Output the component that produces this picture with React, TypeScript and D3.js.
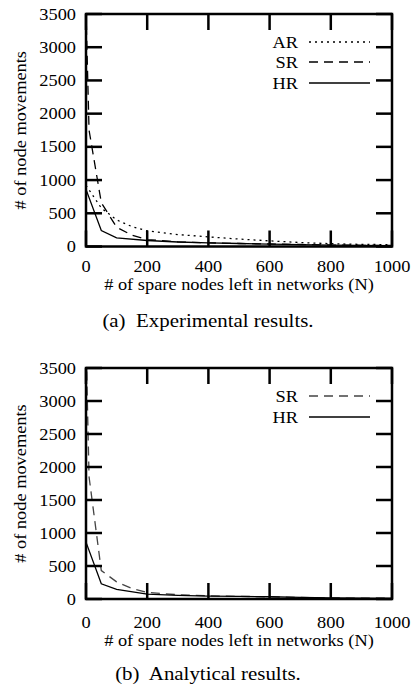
import React from 'react';
import * as d3 from 'd3';

// x ticks / y ticks
const xTicks = [0, 200, 400, 600, 800, 1000];
const yTicks = [0, 500, 1000, 1500, 2000, 2500, 3000, 3500];

// (a) experimental results
const expAR: [number, number][] = [
  [0, 920], [50, 580], [100, 400], [150, 300], [200, 235], [300, 180], [400, 145],
  [500, 112], [600, 85], [700, 60], [800, 42], [900, 32], [1000, 28],
];
const expSR: [number, number][] = [
  [0, 3550], [10, 1750], [50, 660], [100, 290], [150, 170], [200, 105], [300, 70],
  [400, 55], [500, 45], [600, 38], [700, 30], [800, 22], [900, 18], [1000, 15],
];
const expHR: [number, number][] = [
  [0, 860], [50, 240], [100, 130], [200, 90], [300, 68], [400, 55], [500, 45],
  [600, 36], [700, 27], [800, 20], [900, 16], [1000, 14],
];

// (b) analytical results
const anaSR: [number, number][] = [
  [0, 3900], [10, 1850], [50, 430], [100, 260], [150, 160], [200, 100], [300, 65],
  [400, 48], [500, 40], [600, 33], [700, 24], [800, 16], [900, 13], [1000, 11],
];
const anaHR: [number, number][] = [
  [0, 860], [50, 230], [100, 145], [200, 75], [300, 55], [400, 45], [500, 40],
  [600, 34], [700, 25], [800, 15], [900, 12], [1000, 10],
];

const FONT = "'Liberation Serif', 'Times New Roman', Times, 'Nimbus Roman', serif";
const SX = 1.08;

type Series = { name: string; data: [number, number][]; dash: string; color: string };

const Txt = ({ x, y, size, anchor, rotate, children }: any) => (
  <text
    transform={`translate(${x},${y})${rotate ? ` rotate(${rotate})` : ''} scale(${SX},1)`}
    style={{ fontFamily: FONT }}
    fontSize={size}
    textAnchor={anchor}
    fill="#000"
  >
    {children}
  </text>
);

const Panel = ({ top, bottom, series, legendY, id, tickY, titleY, caption, captionY }: any) => {
  const left = 86;
  const right = 392;
  const x = d3.scaleLinear().domain([0, 1000]).range([left, right]);
  const y = d3.scaleLinear().domain([0, 3500]).range([bottom, top]);
  const line = d3.line<[number, number]>().x(d => x(d[0])).y(d => y(d[1]));
  const tl = 16;

  return (
    <g>
      <defs>
        <clipPath id={id}>
          <rect x={left} y={top} width={right - left} height={bottom - top} />
        </clipPath>
      </defs>
      <g clipPath={`url(#${id})`}>
        {series.map((s: Series) => (
          <path key={s.name} d={line(s.data) || ''} fill="none" stroke={s.color}
            strokeWidth={1.3} strokeDasharray={s.dash} />
        ))}
      </g>
      {/* ticks */}
      {yTicks.map(t => (
        <g key={'y' + t} stroke="#000" strokeWidth={2.5}>
          <line x1={left} x2={left + tl} y1={y(t)} y2={y(t)} />
          <line x1={right - tl} x2={right} y1={y(t)} y2={y(t)} />
        </g>
      ))}
      {xTicks.map(t => (
        <g key={'x' + t} stroke="#000" strokeWidth={2.5}>
          <line x1={x(t)} x2={x(t)} y1={bottom} y2={bottom - tl} />
          <line x1={x(t)} x2={x(t)} y1={top} y2={top + tl} />
        </g>
      ))}
      <rect x={left} y={top} width={right - left} height={bottom - top}
        fill="none" stroke="#000" strokeWidth={2.5} />
      {yTicks.map(t => (
        <Txt key={'yl' + t} x={76} y={y(t) + 5.5} size={17} anchor="end">{t}</Txt>
      ))}
      {xTicks.map(t => (
        <Txt key={'xl' + t} x={x(t)} y={tickY} size={17} anchor="middle">{t}</Txt>
      ))}
      <Txt x={(left + right) / 2} y={titleY} size={17} anchor="middle">
        # of spare nodes left in networks (N)
      </Txt>
      <Txt x={26} y={(top + bottom) / 2} size={17} anchor="middle" rotate={-90}>
        # of node movements
      </Txt>
      {series.map((s: Series, i: number) => (
        <g key={'lg' + s.name}>
          <Txt x={298} y={legendY[i] + 5.5} size={17} anchor="end">{s.name}</Txt>
          <line x1={309} x2={370} y1={legendY[i]} y2={legendY[i]} stroke={s.color}
            strokeWidth={1.3} strokeDasharray={s.dash} />
        </g>
      ))}
      <text x={208} y={captionY} style={{ fontFamily: FONT, whiteSpace: 'pre' }} fontSize={19}
        textAnchor="middle" transform="translate(208,0) scale(1.1,1) translate(-208,0)">
        {caption}
      </text>
    </g>
  );
};

export default function App() {
  const seriesA: Series[] = [
    { name: 'AR', data: expAR, dash: '2,4', color: '#000' },
    { name: 'SR', data: expSR, dash: '9,6', color: '#000' },
    { name: 'HR', data: expHR, dash: '', color: '#000' },
  ];
  const seriesB: Series[] = [
    { name: 'SR', data: anaSR, dash: '9,6', color: '#444' },
    { name: 'HR', data: anaHR, dash: '', color: '#000' },
  ];
  return (
    <svg width={417} height={687} style={{ position: 'absolute', left: 0, top: 0, background: '#fff' }}>
      <rect width={417} height={687} fill="#fff" />
      <Panel id="clipA" top={14} bottom={246.5} series={seriesA} legendY={[42, 62, 83]}
        tickY={272} titleY={290} caption="(a)  Experimental results." captionY={327} />
      <Panel id="clipB" top={368} bottom={599} series={seriesB} legendY={[396, 417]}
        tickY={628} titleY={646} caption="(b)  Analytical results." captionY={680} />
    </svg>
  );
}
